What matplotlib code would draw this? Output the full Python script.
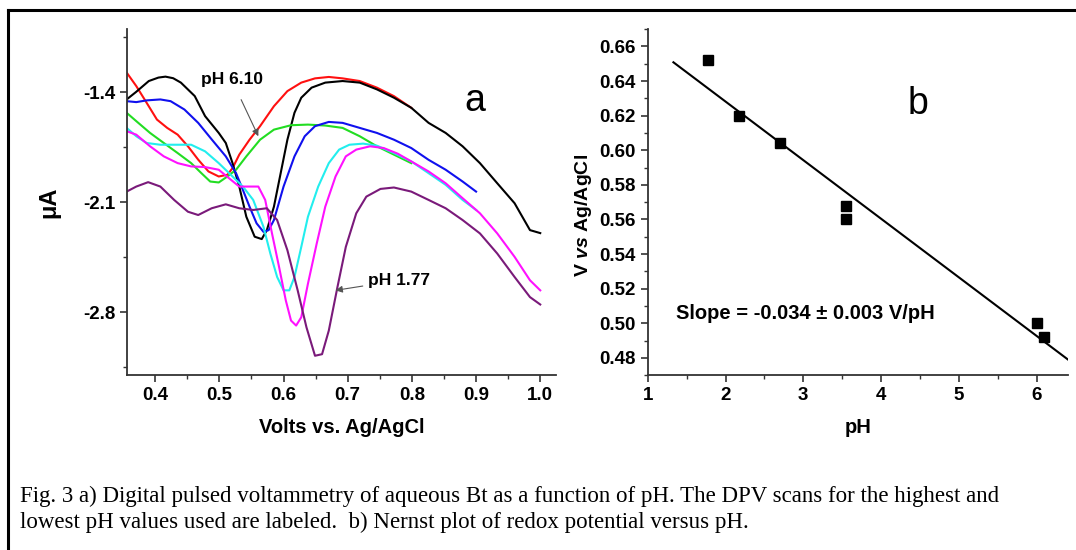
import numpy as np
import matplotlib
matplotlib.use('Agg')
import matplotlib.pyplot as plt
from matplotlib.lines import Line2D
from matplotlib.ticker import MultipleLocator, FormatStrFormatter

plt.rcParams['font.family'] = ['Liberation Sans', 'DejaVu Sans']
plt.rcParams['font.weight'] = 'bold'
plt.rcParams['axes.unicode_minus'] = False
plt.rcParams['mathtext.fontset'] = 'custom'
plt.rcParams['mathtext.it'] = 'Liberation Sans:bold:italic'
plt.rcParams['mathtext.rm'] = 'Liberation Sans:bold'

# --- panel a: DPV scans (volts vs. current in uA) ---
black_v = [0.3555, 0.370, 0.39, 0.405, 0.416, 0.428, 0.440, 0.4616, 0.4777, 0.499, 0.510, 0.5205, 0.531, 0.542,
           0.555, 0.566, 0.574, 0.585, 0.5955, 0.606, 0.617, 0.6276, 0.6437, 0.665, 0.692, 0.7187, 0.7455,
           0.772, 0.799, 0.826, 0.8526, 0.879, 0.906, 0.933, 0.96, 0.984, 1.0]
black_i = [-1.447, -1.40, -1.33, -1.308, -1.302, -1.312, -1.340, -1.4256, -1.553, -1.66, -1.724, -1.852, -2.001, -2.193,
           -2.32, -2.335, -2.278, -2.129, -1.916, -1.703, -1.532, -1.436, -1.372, -1.340, -1.330, -1.340, -1.383,
           -1.436, -1.500, -1.596, -1.66, -1.745, -1.852, -1.98, -2.107, -2.278, -2.297]

red_v = [0.3555, 0.3705, 0.3866, 0.4027, 0.4187, 0.435, 0.451, 0.467, 0.483, 0.499, 0.5125, 0.5205, 0.531,
         0.547, 0.5634, 0.585, 0.606, 0.6276, 0.649, 0.6705, 0.692, 0.7187, 0.7455, 0.772, 0.799]
red_i = [-1.276, -1.362, -1.468, -1.575, -1.628, -1.671, -1.745, -1.830, -1.905, -1.937, -1.926, -1.884, -1.798,
         -1.703, -1.617, -1.49, -1.394, -1.34, -1.313, -1.304, -1.313, -1.33, -1.372, -1.426, -1.5]

blue_v = [0.3555, 0.3705, 0.3866, 0.408, 0.424, 0.4455, 0.467, 0.4884, 0.51, 0.526, 0.5366, 0.547, 0.558, 0.5687,
          0.5768, 0.585, 0.6, 0.617, 0.633, 0.649, 0.6705, 0.692, 0.7187, 0.7455, 0.772, 0.799, 0.826, 0.8526,
          0.879, 0.9]
blue_i = [-1.458, -1.464, -1.453, -1.447, -1.458, -1.511, -1.596, -1.703, -1.809, -1.916, -2.022, -2.129, -2.235,
          -2.289, -2.278, -2.214, -2.001, -1.809, -1.681, -1.617, -1.59, -1.596, -1.628, -1.66, -1.703, -1.756,
          -1.831, -1.894, -1.969, -2.033]

green_v = [0.3555, 0.3705, 0.392, 0.4134, 0.435, 0.456, 0.472, 0.4857, 0.499, 0.5125, 0.526, 0.542, 0.5634,
           0.585, 0.6116, 0.638, 0.665, 0.692, 0.7187, 0.7455, 0.772, 0.799]
green_i = [-1.532, -1.585, -1.66, -1.724, -1.788, -1.852, -1.916, -1.969, -1.975, -1.937, -1.894, -1.809, -1.703,
           -1.639, -1.611, -1.607, -1.613, -1.628, -1.681, -1.745, -1.798, -1.852]

cyan_v = [0.3555, 0.3705, 0.3866, 0.408, 0.435, 0.456, 0.4777, 0.499, 0.5205, 0.5366, 0.5527, 0.5687, 0.5794,
          0.59, 0.6, 0.609, 0.617, 0.6276, 0.638, 0.654, 0.6705, 0.6866, 0.7026, 0.724, 0.7455, 0.772, 0.799,
          0.826, 0.8526, 0.879, 0.9]
cyan_i = [-1.628, -1.681, -1.724, -1.735, -1.735, -1.735, -1.777, -1.852, -1.937, -2.001, -2.086, -2.257, -2.427,
          -2.576, -2.661, -2.661, -2.576, -2.385, -2.193, -2.001, -1.852, -1.766, -1.735, -1.728, -1.741, -1.788,
          -1.841, -1.916, -1.99, -2.086, -2.15]

magenta_v = [0.3555, 0.3705, 0.392, 0.4134, 0.435, 0.456, 0.4777, 0.499, 0.515, 0.531, 0.547, 0.5607, 0.5714,
             0.582, 0.593, 0.6035, 0.6116, 0.6196, 0.6276, 0.638, 0.6517, 0.665, 0.681, 0.697, 0.7133, 0.7348,
             0.756, 0.778, 0.799, 0.826, 0.8526, 0.879, 0.906, 0.933, 0.96, 0.984, 1.0]
magenta_i = [-1.649, -1.671, -1.745, -1.809, -1.852, -1.873, -1.877, -1.894, -1.948, -2.001, -2.001, -2.001, -2.086,
             -2.299, -2.512, -2.725, -2.853, -2.885, -2.832, -2.619, -2.363, -2.129, -1.937, -1.809, -1.766, -1.745,
             -1.756, -1.792, -1.841, -1.905, -1.98, -2.075, -2.171, -2.299, -2.448, -2.597, -2.661]

purple_v = [0.3555, 0.3705, 0.389, 0.408, 0.4295, 0.451, 0.467, 0.488, 0.51, 0.531, 0.5527, 0.574, 0.59, 0.606,
            0.622, 0.6357, 0.649, 0.66, 0.6705, 0.684, 0.697, 0.7133, 0.729, 0.751, 0.772, 0.799, 0.826, 0.8526,
            0.879, 0.906, 0.933, 0.96, 0.984, 1.0]
purple_i = [-2.033, -2.001, -1.973, -2.001, -2.086, -2.161, -2.182, -2.139, -2.114, -2.139, -2.15, -2.139, -2.214,
            -2.406, -2.661, -2.896, -3.077, -3.067, -2.917, -2.64, -2.385, -2.171, -2.065, -2.016, -2.007, -2.033,
            -2.086, -2.139, -2.214, -2.299, -2.427, -2.576, -2.704, -2.751]

scans = [
    (red_v, red_i, '#ff1010'),
    (black_v, black_i, 'black'),
    (green_v, green_i, '#22dd22'),
    (blue_v, blue_i, '#1010ee'),
    (cyan_v, cyan_i, '#22eeee'),
    (magenta_v, magenta_i, '#ff11ff'),
    (purple_v, purple_i, '#7a1a7a'),
]

# --- panel b: Nernst plot ---
ph = [1.77, 2.17, 2.70, 3.55, 3.55, 6.00, 6.10]
potential = [0.652, 0.620, 0.604, 0.568, 0.560, 0.500, 0.492]
fit_range = [1.33, 6.45]

fig = plt.figure(figsize=(10.76, 5.5), dpi=100)

ax1 = fig.add_axes([0.118, 0.318, 0.399, 0.629])
for v, i, c in scans:
    ax1.plot(v, i, color=c, lw=1.5)

ax1.set_xlim(0.356, 1.025)
ax1.set_ylim(-3.2, -1.0)
ax1.xaxis.set_major_locator(MultipleLocator(0.1))
ax1.xaxis.set_minor_locator(MultipleLocator(0.05))
ax1.set_yticks([-1.4, -2.1, -2.8])
ax1.set_yticks([-1.05, -1.75, -2.45, -3.15], minor=True)
ax1.set_xlabel('Volts vs. Ag/AgCl', fontsize=14.5, fontweight='bold', labelpad=10)
ax1.set_ylabel('μA', fontsize=17, fontweight='bold', labelpad=16)

ax1.text(0.898, -1.458, 'a', fontsize=27, fontweight='normal', ha='center', va='center')
ax1.annotate('pH 6.10', xy=(0.5607, -1.681), xytext=(0.519, -1.319), fontsize=12.5, fontweight='bold',
             ha='center', va='center',
             arrowprops=dict(arrowstyle='-|>', color='#555555', lw=0.8, shrinkA=8, shrinkB=0,
                             mutation_scale=10))
ax1.annotate('pH 1.77', xy=(0.681, -2.661), xytext=(0.732, -2.597), fontsize=12.5, fontweight='bold',
             ha='left', va='center',
             arrowprops=dict(arrowstyle='-|>', color='#555555', lw=0.8, shrinkA=2, shrinkB=0,
                             mutation_scale=10))

ax2 = fig.add_axes([0.602, 0.318, 0.391, 0.629])
coef = np.polyfit(ph, potential, 1)
fit_x = np.array(fit_range)
ax2.plot(fit_x, np.polyval(coef, fit_x), color='black', lw=1.5)
ax2.plot(ph, potential, 's', color='black', markersize=7.5)

ax2.set_xlim(1, 6.41)
ax2.set_ylim(0.47, 0.67)
ax2.xaxis.set_major_locator(MultipleLocator(1))
ax2.xaxis.set_minor_locator(MultipleLocator(0.5))
ax2.yaxis.set_major_locator(MultipleLocator(0.02))
ax2.yaxis.set_minor_locator(MultipleLocator(0.01))
ax2.yaxis.set_major_formatter(FormatStrFormatter('%.2f'))
ax2.set_xlabel('pH', fontsize=14.5, fontweight='bold', labelpad=10)
ax2.set_ylabel(r'V $\mathit{vs}$ Ag/AgCl', fontsize=14, fontweight='bold', labelpad=4, y=0.46)
ax2.text(4.48, 0.627, 'b', fontsize=27, fontweight='normal', ha='center', va='center')
ax2.text(1.366, 0.5057, 'Slope = -0.034 ± 0.003 V/pH', fontsize=14.5, fontweight='bold',
         ha='left', va='center')

for ax in (ax1, ax2):
    for side in ('top', 'right'):
        ax.spines[side].set_visible(False)
    for side in ('left', 'bottom'):
        ax.spines[side].set_linewidth(1.3)
        ax.spines[side].set_color('#333333')
    ax.tick_params(which='major', direction='out', length=5, width=1.2, labelsize=13.5, color='#333333')
    ax.tick_params(which='minor', direction='out', length=3, width=1.0, color='#333333')
    for lab in ax.get_xticklabels() + ax.get_yticklabels():
        lab.set_fontweight('bold')

# figure frame (left and top edges only are visible)
fig.add_artist(Line2D([0.0075, 0.0075], [0, 0.982], color='black', lw=2.2))
fig.add_artist(Line2D([0.0075, 1.0], [0.982, 0.982], color='black', lw=2.2))

fig.text(20 / 1076, 1 - 486 / 550,
         'Fig. 3 a) Digital pulsed voltammetry of aqueous Bt as a function of pH. The DPV scans for the highest and\n'
         'lowest pH values used are labeled.  b) Nernst plot of redox potential versus pH.',
         family=['Liberation Serif', 'DejaVu Serif'], fontweight='normal', fontsize=16.5,
         ha='left', va='top', linespacing=1.3)

fig.savefig('out.png', dpi=100)
